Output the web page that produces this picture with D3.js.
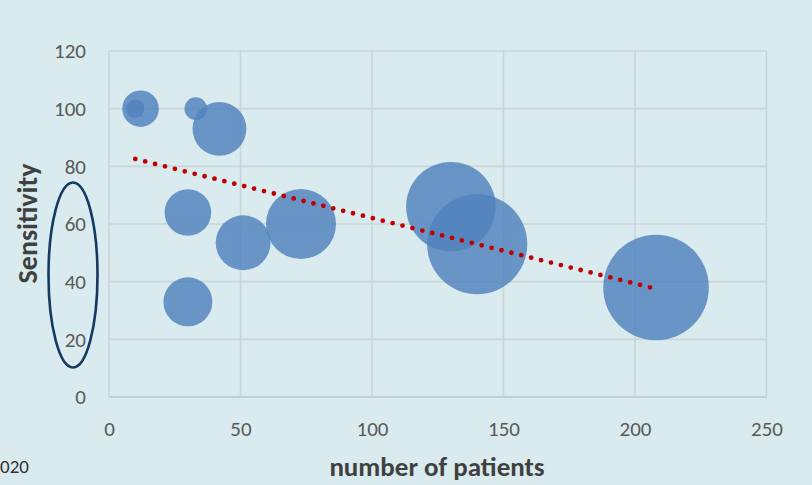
<!DOCTYPE html>
<html>
<head>
<meta charset="utf-8">
<script src="https://cdn.jsdelivr.net/npm/d3@7"></script>
<style>
  html, body { margin: 0; padding: 0; background: #d9ebee; }
  svg { display: block; }
</style>
</head>
<body>
<div id="graph"></div>
<script>
/*******************************************************************************
* Data
*******************************************************************************/
var patients    = [12, 10, 33, 42, 30, 30, 51, 73, 130, 140, 208];
var sensitivity = [100, 100, 100, 93, 64, 33, 53.5, 60, 66, 53, 38];
var bubbleSize  = [12, 3, 4.6, 26, 19.5, 21.5, 27, 44, 72, 90, 100];
var xTicks = [0, 50, 100, 150, 200, 250];
var yTicks = [0, 20, 40, 60, 80, 100, 120];

var points = patients.map(function(p, i){
  return { x: p, y: sensitivity[i], size: bubbleSize[i] };
});

/*******************************************************************************
* Svg Container
*******************************************************************************/
var W = 812, H = 485;
var plotLeft = 109, plotRight = 766.5, plotTop = 51, plotBottom = 397;

var svg = d3.select("#graph").append("svg")
  .attr("width", W)
  .attr("height", H);

svg.append("rect")
  .attr("width", W).attr("height", H)
  .attr("fill", "#d9ebee");

var x = d3.scaleLinear().domain([0, 250]).range([plotLeft, plotRight]);
var y = d3.scaleLinear().domain([0, 120]).range([plotBottom, plotTop]);
var r = d3.scaleSqrt().domain([0, 100]).range([0, 52.8]);

var font = "Calibri, Carlito, Lato, 'Liberation Sans', sans-serif";

/*******************************************************************************
* grid + axes
*******************************************************************************/
var grid = svg.append("g");
grid.selectAll("line.h").data(yTicks).enter().append("line")
  .attr("x1", plotLeft).attr("x2", plotRight)
  .attr("y1", function(d){ return y(d); })
  .attr("y2", function(d){ return y(d); })
  .attr("stroke", function(d){ return d === 0 ? "#bcc3c6" : "#cdd4d7"; })
  .attr("stroke-width", 1.6);
grid.selectAll("line.v").data(xTicks).enter().append("line")
  .attr("y1", plotTop).attr("y2", plotBottom)
  .attr("x1", function(d){ return x(d); })
  .attr("x2", function(d){ return x(d); })
  .attr("stroke", "#cdd4d7")
  .attr("stroke-width", 1.6);

var xAxis = svg.append("g")
  .attr("transform", "translate(0," + plotBottom + ")")
  .call(d3.axisBottom(x).tickValues(xTicks).tickSize(0).tickPadding(24));
var yAxis = svg.append("g")
  .attr("transform", "translate(" + plotLeft + ",0)")
  .call(d3.axisLeft(y).tickValues(yTicks).tickSize(0).tickPadding(23));

[xAxis, yAxis].forEach(function(a){
  a.select(".domain").remove();
  a.selectAll("text")
    .attr("font-family", font)
    .attr("font-size", 21)
    .attr("fill", "#595959");
});

/*******************************************************************************
* bubbles
*******************************************************************************/
svg.append("g").selectAll("circle")
  .data(points)
  .enter()
  .append("circle")
  .attr("cx", function(d){ return x(d.x); })
  .attr("cy", function(d){ return y(d.y); })
  .attr("r", function(d){ return r(d.size); })
  .attr("fill", "#4f81bd")
  .attr("fill-opacity", 0.82);

/*******************************************************************************
* linear trend (least squares)
*******************************************************************************/
var mx = d3.mean(patients), my = d3.mean(sensitivity);
var sxy = d3.sum(points, function(d){ return (d.x - mx) * (d.y - my); });
var sxx = d3.sum(points, function(d){ return (d.x - mx) * (d.x - mx); });
var slope = sxy / sxx, icpt = my - slope * mx;
var ext = d3.extent(patients);

svg.append("line")
  .attr("x1", x(ext[0])).attr("y1", y(icpt + slope * ext[0]))
  .attr("x2", x(ext[1])).attr("y2", y(icpt + slope * ext[1]))
  .attr("stroke", "#c00000")
  .attr("stroke-width", 4.8)
  .attr("stroke-linecap", "round")
  .attr("stroke-dasharray", "0 10.2");

/*******************************************************************************
* labels
*******************************************************************************/
svg.append("text")
  .attr("x", 437).attr("y", 476)
  .attr("text-anchor", "middle")
  .attr("font-family", font)
  .attr("font-weight", "bold")
  .attr("font-size", 27)
  .attr("fill", "#404040")
  .text("number of patients");

svg.append("text")
  .attr("transform", "translate(37,223.5) rotate(-90)")
  .attr("text-anchor", "middle")
  .attr("font-family", font)
  .attr("font-weight", "bold")
  .attr("font-size", 28)
  .attr("fill", "#404040")
  .text("Sensitivity");

svg.append("text")
  .attr("x", 0).attr("y", 473)
  .attr("font-family", font)
  .attr("font-size", 19)
  .attr("fill", "#333")
  .text("020");

svg.append("ellipse")
  .attr("cx", 73).attr("cy", 275)
  .attr("rx", 24.5).attr("ry", 92.5)
  .attr("fill", "none")
  .attr("stroke", "#143a62")
  .attr("stroke-width", 2.6);
</script>
</body>
</html>
